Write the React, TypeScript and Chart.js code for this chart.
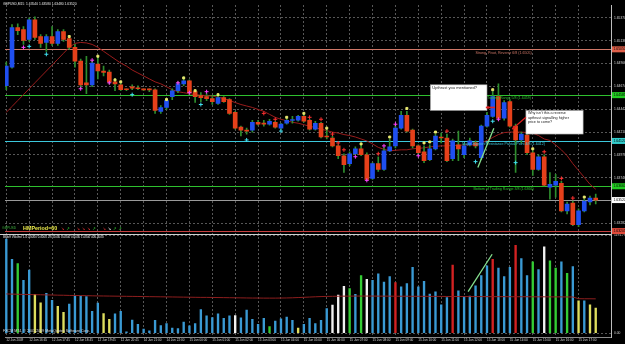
import React, { useEffect, useRef } from "react";
import { Chart, registerables } from "chart.js";

Chart.register(...registerables);

// ---------------- data ----------------
const symbolTitle = "GBPUSD,M15";
const timeLabels = [
  "12 Jun 2009", "12 Jun 16:45", "12 Jun 17:45", "12 Jun 18:45", "12 Jun 19:45", "12 Jun 20:45",
  "14 Jun 21:00", "14 Jun 22:00", "15 Jun 00:00", "15 Jun 01:00", "15 Jun 02:00", "15 Jun 03:00",
  "15 Jun 04:00", "15 Jun 05:00", "15 Jun 06:00", "15 Jun 07:00", "15 Jun 08:00", "15 Jun 09:00",
  "15 Jun 10:00", "15 Jun 11:00", "15 Jun 12:00", "15 Jun 13:00", "15 Jun 14:00", "15 Jun 15:00",
  "15 Jun 16:00", "15 Jun 17:00",
];
const barsPerTimeLabel = 4;

const opens = [
  1.6468, 1.6487, 1.6527, 1.6525, 1.6515, 1.6535, 1.6518, 1.6512, 1.6518, 1.6511,
  1.6523, 1.6516, 1.6507, 1.6493, 1.6471, 1.6469, 1.6490, 1.6483, 1.6482, 1.6472,
  1.6469, 1.64645, 1.6467, 1.6466, 1.64642, 1.64642, 1.6464, 1.6442, 1.6446, 1.6457,
  1.6463, 1.6470, 1.6473, 1.6462, 1.6458, 1.6457, 1.6455, 1.6450, 1.6456, 1.6454,
  1.6441, 1.6426, 1.6423, 1.6423, 1.6431, 1.6430, 1.6429, 1.6431, 1.6425, 1.6430,
  1.64328, 1.6433, 1.6437, 1.6433, 1.6424, 1.6430, 1.6417, 1.6415, 1.6407, 1.6397,
  1.6389, 1.6399, 1.6404, 1.6398, 1.6374, 1.6389, 1.6383, 1.6402, 1.6407, 1.6425,
  1.6438, 1.6423, 1.6407, 1.6401, 1.6393, 1.6404, 1.6416, 1.6415, 1.6394, 1.6408,
  1.6398, 1.6408, 1.6410, 1.6395, 1.6427, 1.6437, 1.6457, 1.6435, 1.6452, 1.6427,
  1.6413, 1.6418, 1.6400, 1.6383, 1.6396, 1.6365, 1.6367, 1.6369, 1.6341, 1.6349,
  1.6327, 1.6341, 1.6350, 1.6354,
];
const highs = [
  1.6492, 1.6530, 1.6531, 1.6528, 1.6537, 1.6538, 1.6520, 1.6520, 1.6528, 1.6525,
  1.6525, 1.6517, 1.6510, 1.6495, 1.6498, 1.6493, 1.6498, 1.6488, 1.6484, 1.6475,
  1.6471, 1.6465, 1.6469, 1.6468, 1.6465, 1.6465, 1.6465, 1.6448, 1.6455, 1.6465,
  1.6472, 1.6477, 1.6474, 1.6464, 1.6461, 1.6460, 1.6457, 1.6458, 1.6457, 1.6455,
  1.6442, 1.6427, 1.6425, 1.6433, 1.6433, 1.6433, 1.6434, 1.6432, 1.6430, 1.6434,
  1.6437, 1.6438, 1.6438, 1.6434, 1.6432, 1.6431, 1.6423, 1.6417, 1.6408, 1.6399,
  1.6401, 1.6406, 1.6408, 1.6400, 1.6390, 1.6396, 1.6405, 1.6414, 1.6428, 1.6442,
  1.6442, 1.6424, 1.6408, 1.6407, 1.6408, 1.6419, 1.6420, 1.6419, 1.6414, 1.6422,
  1.6409, 1.6415, 1.6412, 1.6428, 1.6441, 1.6462, 1.6470, 1.6453, 1.6454, 1.6429,
  1.6421, 1.6420, 1.6402, 1.6398, 1.6398, 1.6380, 1.6378, 1.6371, 1.6350, 1.6351,
  1.6343, 1.6353, 1.6356, 1.6358,
];
const lows = [
  1.6464, 1.6486, 1.6520, 1.6510, 1.6513, 1.6515, 1.6507, 1.6503, 1.6509, 1.6509,
  1.6513, 1.6505, 1.6487, 1.6465, 1.6460, 1.6467, 1.6475, 1.6478, 1.6470, 1.6463,
  1.6463, 1.6463, 1.6464, 1.6464, 1.6463, 1.6462, 1.6440, 1.6440, 1.6444, 1.6454,
  1.6461, 1.6468, 1.6459, 1.6451, 1.6452, 1.6453, 1.6449, 1.6449, 1.6451, 1.6439,
  1.6424, 1.6417, 1.6419, 1.6421, 1.6428, 1.6427, 1.6428, 1.6425, 1.6424, 1.6429,
  1.6430, 1.6432, 1.6431, 1.6423, 1.6423, 1.6415, 1.6414, 1.6406, 1.6394, 1.6380,
  1.6387, 1.6398, 1.6397, 1.6372, 1.6373, 1.6381, 1.6382, 1.6401, 1.6405, 1.6424,
  1.6421, 1.6405, 1.6398, 1.6390, 1.6392, 1.6403, 1.6410, 1.6391, 1.6392, 1.6392,
  1.6395, 1.6407, 1.6405, 1.6393, 1.6426, 1.6436, 1.6433, 1.6433, 1.6426, 1.6380,
  1.6410, 1.6398, 1.6377, 1.6382, 1.6366, 1.6353, 1.6355, 1.6340, 1.6338, 1.6326,
  1.6325, 1.6340, 1.6347, 1.6348,
];
const closes = [
  1.6488, 1.6527, 1.6524, 1.6514, 1.6535, 1.6517, 1.6511, 1.6518, 1.6511, 1.6523,
  1.6515, 1.6507, 1.6493, 1.6469, 1.6469, 1.6491, 1.6483, 1.64815, 1.6472, 1.6470,
  1.6464, 1.6464, 1.64655, 1.6465, 1.64638, 1.64638, 1.6443, 1.6446, 1.6453, 1.6463,
  1.6470, 1.6473, 1.6461, 1.6457, 1.6456, 1.6455, 1.6452, 1.6456, 1.6452, 1.6440,
  1.6425, 1.6423, 1.6422, 1.6431, 1.6429, 1.6429, 1.6432, 1.6426, 1.6429, 1.6433,
  1.64332, 1.6437, 1.6432, 1.6424, 1.6430, 1.6416, 1.6416, 1.6407, 1.6397, 1.6388,
  1.6399, 1.6404, 1.6398, 1.6373, 1.6389, 1.6383, 1.6402, 1.6406, 1.6425, 1.6438,
  1.6422, 1.6407, 1.6400, 1.6392, 1.6404, 1.6417, 1.6415, 1.6392, 1.6412, 1.6404,
  1.6407, 1.6412, 1.6407, 1.6427, 1.6438, 1.6457, 1.6435, 1.6451, 1.6427, 1.6413,
  1.6419, 1.6400, 1.6383, 1.6396, 1.6367, 1.6368, 1.6371, 1.6341, 1.6348, 1.6327,
  1.6341, 1.6351, 1.6354, 1.6352,
];
// Hull moving average (HMPeriod=60)
const hma = [
  1.6441, 1.6447, 1.6453, 1.6459, 1.6465, 1.6471, 1.6477, 1.6483, 1.6489, 1.6495,
  1.6501, 1.6507, 1.6511, 1.6512, 1.65115, 1.6510, 1.6507, 1.6503, 1.6499, 1.6495,
  1.6491, 1.6488, 1.6484, 1.6481, 1.6478, 1.6475, 1.6472, 1.6470, 1.6467, 1.6464,
  1.6462, 1.6461, 1.6460, 1.6459, 1.64585, 1.6458, 1.64575, 1.64565, 1.6455, 1.6453,
  1.6451, 1.6449, 1.64475, 1.6446, 1.6444, 1.6442, 1.6439, 1.6436, 1.6434, 1.64325,
  1.6431, 1.6430, 1.64285, 1.6427, 1.64255, 1.6424, 1.64225, 1.6421, 1.6420, 1.64185,
  1.64175, 1.6416, 1.6414, 1.6412, 1.6409, 1.64055, 1.64035, 1.6402, 1.64025, 1.6403,
  1.6403, 1.6404, 1.64045, 1.6405, 1.6406, 1.64065, 1.6407, 1.6407, 1.64075, 1.64075,
  1.6408, 1.6408, 1.6408, 1.6410, 1.64125, 1.64155, 1.64185, 1.64205, 1.6421, 1.6421,
  1.6421, 1.64205, 1.6420, 1.64175, 1.6414, 1.64125, 1.6408, 1.6403, 1.6397, 1.6389,
  1.6382, 1.6375, 1.6368, 1.6363,
];
const volumes = [
  1148, 902, 850, 644, 771, 473, 370, 485, 401, 326,
  254, 354, 457, 453, 445, 266, 366, 238, 167, 235,
  266, 14, 159, 107, 48, 28, 155, 92, 115, 60,
  56, 135, 87, 115, 286, 212, 190, 235, 179, 211,
  215, 187, 282, 167, 107, 179, 80, 147, 175, 194,
  155, 60, 107, 179, 115, 155, 298, 342, 465, 572,
  545, 473, 703, 656, 644, 723, 624, 691, 616, 564,
  604, 802, 564, 632, 477, 504, 346, 433, 831, 516,
  445, 453, 576, 703, 822, 902, 795, 691, 802, 1073,
  910, 703, 870, 775, 1053, 882, 795, 870, 731, 811,
  393, 393, 346, 306,
];
const volumeAverage = [
  478, 476, 474, 472, 471, 469, 468, 466, 465, 463,
  462, 460, 459, 458, 457, 455, 454, 453, 452, 451,
  450, 449, 448, 447, 446, 445, 444, 443, 442, 441,
  440, 439, 438, 437, 436, 436, 435, 434, 433, 432,
  431, 430, 429, 428, 428, 427, 427, 427, 428, 429,
  431, 434, 437, 440, 443, 446, 448, 449, 450, 451,
  451, 452, 452, 452, 452, 451, 451, 451, 450, 450,
  450, 449, 449, 449, 448, 448, 448, 447, 447, 447,
  446, 446, 446, 446, 445, 445, 445, 445, 444, 444,
  444, 444, 443, 443, 443, 442, 442, 442, 441, 441,
  420, 419, 419, 418,
];
// Better Volume bar classes (bar indices)
const volumeClimaxHigh = [68, 78, 85, 89];
const volumeClimaxLow = [40, 57, 58, 59, 63, 94];
const volumeChurn = [2, 46, 60, 62, 92, 95, 96, 98];
const volumeLow = [5, 6, 9, 10, 17, 18, 51, 100, 102, 103];

// signal markers: [bar, price]
const magentaMarks = [
  [3, 1.6507], [13, 1.6465], [15, 1.6494], [18, 1.6471], [30, 1.6471], [32, 1.6461], [35, 1.6462],
  [61, 1.6396], [63, 1.6372], [66, 1.6407], [68, 1.6429], [72, 1.6397], [86, 1.6434],
];
const cyanMarks = [
  [4, 1.6508], [7, 1.6500], [22, 1.6459], [34, 1.6449], [42, 1.6413], [48, 1.6422],
  [82, 1.6391], [85, 1.6432], [89, 1.6390],
];
const yellowMarks = [
  [11, 1.6518], [16, 1.6498], [19, 1.6474], [20, 1.6472], [28, 1.6454], [31, 1.6476], [33, 1.6463],
  [37, 1.6459], [49, 1.6436], [52, 1.6440], [56, 1.6425], [62, 1.6409], [67, 1.6416], [70, 1.6445],
  [73, 1.6410], [74, 1.6411], [75, 1.6421], [85, 1.6464], [92, 1.6404], [101, 1.6355],
];
const redMarks = [
  [45, 1.6440], [47, 1.6434], [53, 1.6436], [55, 1.6434], [57, 1.6419], [58, 1.6410], [59, 1.6403],
  [65, 1.6399], [77, 1.6422], [94, 1.6401], [97, 1.6374], [99, 1.6354],
];

// Murrey math levels
const murreyLevels = [1.6505, 1.64585, 1.6412, 1.6366, 1.63205];
const murreyNames = [
  "Strong, Pivot, Reverse 6/8",
  "Top of Trading Range 5/8",
  "Major Support/Resistance Pivotal Point 4/8",
  "Bottom of Trading Range 3/8",
  "Strong, Pivot, Reverse 2/8",
];
const bidPrice = 1.6352;
const priceTicks = [
  1.6537, 1.65254, 1.65138, 1.65022, 1.64906, 1.6479, 1.64674, 1.64558, 1.64442, 1.64326,
  1.6421, 1.64094, 1.63978, 1.63862, 1.63746, 1.6363, 1.63514, 1.63398, 1.63282,
];
const volumeTicks = [0, 1191.79];

const volumeHeader = "Better Volume 1.4 0.0000 0.0000 297.0000 0.0000 0.0000 1.0000 406.0000";
const copyright = "FXCM MT4, \u00a9 2001-2009 MetaQuotes Software Corp.";
const note1 = ["Upthrust you mentioned?"];
const note2 = ["Why isn't this a reverse", "upthrust signalling higher", "price to come?"];

// ---------------- styles ----------------
const FONT = '"Liberation Sans", "DejaVu Sans", Arial, sans-serif';
const S = {
  bg: "#000000",
  grid: "#575757",
  axisText: "#d4d4d4",
  bull: "#1f4ff0",
  bear: "#e5401a",
  wick: "#2e8e2e",
  hma: "#9a1c1c",
  volBlue: "#3a9ad4",
  volRed: "#d42222",
  volWhite: "#f2f2f2",
  volGreen: "#34cc34",
  volYellow: "#dede5e",
  volMA: "#8e1e1e",
  levelLine: ["#d07868", "#2ec02e", "#3cc8dc", "#2ec02e", "#c84040"],
  levelBox: ["#e0604a", "#22cc22", "#33cccc", "#22cc22", "#e04a3a"],
  bidLine: "#9a9a9a",
};

function txt(ctx: any, s: string, x: number, y: number, color: string, size: number, align = "left", bold = false) {
  ctx.font = `${bold ? "bold " : ""}${size}px ${FONT}`;
  ctx.fillStyle = color;
  ctx.textAlign = align;
  ctx.textBaseline = "middle";
  ctx.fillText(s, x, y);
}

function arrow(ctx: any, x1: number, y1: number, x2: number, y2: number, color: string, w: number) {
  ctx.strokeStyle = color;
  ctx.fillStyle = color;
  ctx.lineWidth = w;
  ctx.beginPath();
  ctx.moveTo(x1, y1);
  ctx.lineTo(x2, y2);
  ctx.stroke();
  const a = Math.atan2(y2 - y1, x2 - x1);
  const h = 3.2;
  ctx.beginPath();
  ctx.moveTo(x2, y2);
  ctx.lineTo(x2 - h * Math.cos(a - 0.55), y2 - h * Math.sin(a - 0.55));
  ctx.lineTo(x2 - h * Math.cos(a + 0.55), y2 - h * Math.sin(a + 0.55));
  ctx.closePath();
  ctx.fill();
}

const overlay = {
  id: "mtOverlay",
  beforeDatasetsDraw(chart: any) {
    const { ctx, chartArea: a, scales } = chart;
    const y = scales.y;
    ctx.save();
    ctx.lineWidth = 1;
    ctx.setLineDash([]);
    murreyLevels.forEach((p, i) => {
      const py = Math.round(y.getPixelForValue(p)) + 0.5;
      ctx.strokeStyle = S.levelLine[i];
      ctx.beginPath();
      ctx.moveTo(a.left, py);
      ctx.lineTo(a.right, py);
      ctx.stroke();
    });
    const by = Math.round(y.getPixelForValue(bidPrice)) + 0.5;
    ctx.strokeStyle = S.bidLine;
    ctx.beginPath();
    ctx.moveTo(a.left, by);
    ctx.lineTo(a.right, by);
    ctx.stroke();
    ctx.restore();
  },
  afterDraw(chart: any) {
    const { ctx, chartArea: a, scales } = chart;
    const x = scales.x, y = scales.y, yv = scales.yv;
    const X = (b: number) => x.getPixelForValue(b);
    const Y = (p: number) => y.getPixelForValue(p);
    const YV = (v: number) => yv.getPixelForValue(v);
    const W = chart.width;
    ctx.save();
    ctx.setLineDash([]);

    // pane separator
    const sep = Math.round(yv.top) + 0.5;
    ctx.strokeStyle = "#cfcfcf";
    ctx.lineWidth = 1;
    ctx.beginPath();
    ctx.moveTo(0, sep);
    ctx.lineTo(a.right, sep);
    ctx.stroke();

    // level labels
    murreyLevels.slice(0, 4).forEach((p, i) => {
      txt(ctx, `${murreyNames[i]} (${p.toFixed(4)})`, X(86.9), Y(p) + 3.2, S.levelLine[i], 3.6, "center");
    });

    // right axis boxes
    const boxes = murreyLevels.map((p, i) => ({ p, c: S.levelBox[i], t: "#000" }));
    boxes.push({ p: bidPrice, c: "#ffffff", t: "#000" });
    boxes.forEach((b) => {
      const py = Y(b.p);
      ctx.fillStyle = b.c;
      ctx.fillRect(a.right + 1, py - 3, W - a.right - 1, 6);
      txt(ctx, b.p.toFixed(5), a.right + 2.5, py, b.t, 3.4);
    });

    // annotation notes
    const drawNote = (b0: number, b1: number, p0: number, p1: number, lines: string[], size: number, lh: number) => {
      const l = X(b0), r = X(b1), t = Y(p0), btm = Y(p1);
      ctx.fillStyle = "#ffffff";
      ctx.fillRect(l, t, r - l, btm - t);
      ctx.strokeStyle = "#9a9a9a";
      ctx.lineWidth = 0.6;
      ctx.strokeRect(l, t, r - l, btm - t);
      lines.forEach((s, k) => txt(ctx, s, l + 2, t + 3 + k * lh, "#1a1a1a", size));
    };
    drawNote(74.1, 84.0, 1.6469, 1.6443, note1, 4, 4);
    drawNote(90.8, 100.8, 1.6443, 1.6419, note2, 3.7, 4.1);
    arrow(ctx, X(85.4), Y(1.6446), X(83.8), Y(1.6446), "#e02020", 1.6);
    arrow(ctx, X(90.8), Y(1.6436), X(88.4), Y(1.6424), "#e02020", 1.3);

    // hand-drawn green lines
    ctx.strokeStyle = "#86e08e";
    ctx.lineWidth = 1.3;
    ctx.beginPath();
    ctx.moveTo(X(82.4), Y(1.6385));
    ctx.lineTo(X(85.2), Y(1.6425));
    ctx.stroke();
    ctx.beginPath();
    ctx.moveTo(X(80.7), YV(506));
    ctx.lineTo(X(84.9), YV(963));
    ctx.stroke();

    // headers
    const n = opens.length - 1;
    txt(ctx, `${symbolTitle}  ${opens[n].toFixed(5)} ${highs[n].toFixed(5)} ${lows[n].toFixed(5)} ${closes[n].toFixed(5)}`, 3, 4, "#e8e8e8", 3.3);
    txt(ctx, volumeHeader, 3, yv.top + 4, "#e8e8e8", 3.0);
    txt(ctx, copyright, 3, 331, "#d8d8d8", 3.6);

    // bottom-left indicator labels of the price pane
    const ly = y.bottom - 5;
    txt(ctx, "GBPUSD", 2, ly, "#3aa83a", 3.4);
    txt(ctx, "HMPeriod=60", 23, ly, "#e8e84a", 5.4, "left", true);
    const glyphs: [string, string][] = [
      ["\u2198", "#e03030"], ["\u2197", "#30d030"], ["", ""], ["\u2198", "#e03030"], ["\u2198", "#e03030"],
      ["\u2198", "#e03030"], ["\u2197", "#30d030"], ["", ""], ["\u2198", "#e03030"], ["\u2198", "#f0f0f0"],
      ["\u2197", "#30d030"], ["\u2197", "#30d030"],
    ];
    glyphs.forEach(([g, c], k) => {
      if (g) txt(ctx, g, 61 + k * 5.2, ly, c, 4.2);
    });
    ctx.restore();
  },
};

export default function App() {
  const ref = useRef<HTMLCanvasElement | null>(null);

  useEffect(() => {
    const canvas = ref.current;
    if (!canvas) return;
    const idx = opens.map((_, i) => i);
    const volColor = idx.map((i) => {
      if (volumeClimaxHigh.includes(i)) return S.volRed;
      if (volumeClimaxLow.includes(i)) return S.volWhite;
      if (volumeChurn.includes(i)) return S.volGreen;
      if (volumeLow.includes(i)) return S.volYellow;
      return S.volBlue;
    });
    const markerSet = (marks: number[][], color: string, style: string, r: number, order: number) => ({
      type: "line" as const,
      yAxisID: "y",
      data: marks.map(([b, p]) => ({ x: b, y: p })),
      showLine: false,
      pointStyle: style,
      pointRadius: r,
      pointBorderColor: color,
      pointBackgroundColor: color,
      pointBorderWidth: 1,
      order,
    });

    const chart = new Chart(canvas, {
      type: "bar",
      data: {
        datasets: [
          {
            type: "line",
            yAxisID: "y",
            data: hma.map((v, i) => ({ x: i, y: v })),
            borderColor: S.hma,
            borderWidth: 1,
            pointRadius: 0,
            order: 5,
          },
          {
            type: "bar",
            yAxisID: "y",
            data: idx.map((i) => ({ x: i, y: [lows[i], highs[i]] })),
            backgroundColor: S.wick,
            barThickness: 1,
            grouped: false,
            order: 4,
          },
          {
            type: "bar",
            yAxisID: "y",
            data: idx.map((i) => ({ x: i, y: [opens[i], closes[i]] })),
            backgroundColor: idx.map((i) => (closes[i] > opens[i] ? S.bull : S.bear)),
            barThickness: 4,
            minBarLength: 1,
            grouped: false,
            order: 3,
          },
          markerSet(magentaMarks, "#ff40ff", "cross", 2, 0),
          markerSet(cyanMarks, "#40e0f0", "cross", 2, 0),
          markerSet(redMarks, "#ff3030", "cross", 2, 0),
          markerSet(yellowMarks, "#e8e870", "rect", 1.4, 0),
          {
            type: "bar",
            yAxisID: "yv",
            data: volumes.map((v, i) => ({ x: i, y: v })),
            backgroundColor: volColor,
            barThickness: 1.7,
            grouped: false,
            order: 2,
          },
          {
            type: "line",
            yAxisID: "yv",
            data: volumeAverage.map((v, i) => ({ x: i, y: v })),
            borderColor: S.volMA,
            borderWidth: 1,
            pointRadius: 0,
            order: 1,
          },
        ] as any,
      },
      options: {
        animation: false,
        responsive: false,
        maintainAspectRatio: false,
        devicePixelRatio: 1,
        events: [],
        layout: { padding: 0 },
        plugins: { legend: { display: false }, tooltip: { enabled: false } },
        scales: {
          x: {
            type: "linear",
            min: -0.225,
            max: 105.67,
            offset: false,
            afterBuildTicks: (s: any) => {
              s.ticks = timeLabels.map((_, i) => ({ value: i * barsPerTimeLabel }));
            },
            afterFit: (s: any) => {
              s.height = 7;
              s.paddingLeft = 0;
              s.paddingRight = 0;
            },
            grid: { color: S.grid, drawTicks: false, offset: false },
            border: { display: true, color: "#8a8a8a", dash: [2, 2] },
            ticks: {
              autoSkip: false,
              maxRotation: 0,
              minRotation: 0,
              align: "start",
              padding: 1.5,
              color: S.axisText,
              font: { family: FONT, size: 3.1 },
              callback: (v: any) => timeLabels[Math.round(Number(v) / barsPerTimeLabel)] ?? "",
            },
          },
          y: {
            type: "linear",
            position: "right",
            stack: "panes",
            stackWeight: 232,
            min: 1.6318,
            max: 1.655,
            afterBuildTicks: (s: any) => {
              s.ticks = priceTicks.map((v) => ({ value: v }));
            },
            afterFit: (s: any) => {
              s.width = 14;
              s.paddingTop = 0;
              s.paddingBottom = 0;
            },
            grid: { color: S.grid, drawTicks: false },
            border: { display: true, color: "#bdbdbd", dash: [2, 2] },
            ticks: {
              padding: 3,
              color: S.axisText,
              font: { family: FONT, size: 3.3 },
              callback: (v: any) => Number(v).toFixed(5),
            },
          },
          yv: {
            type: "linear",
            position: "right",
            stack: "panes",
            stackWeight: 105,
            min: -48.2,
            max: 1216,
            afterBuildTicks: (s: any) => {
              s.ticks = volumeTicks.map((v) => ({ value: v }));
            },
            afterFit: (s: any) => {
              s.width = 14;
              s.paddingTop = 0;
              s.paddingBottom = 0;
            },
            grid: { color: S.grid, drawTicks: false },
            border: { display: true, color: "#bdbdbd", dash: [2, 2] },
            ticks: {
              padding: 3,
              color: S.axisText,
              font: { family: FONT, size: 3.3 },
              callback: (v: any) => Number(v).toFixed(2),
            },
          },
        } as any,
      },
      plugins: [overlay],
    });
    return () => chart.destroy();
  }, []);

  return (
    <div style={{ position: "fixed", left: 0, top: 0, width: 625, height: 344, background: S.bg, overflow: "hidden" }}>
      <canvas ref={ref} width={625} height={344} style={{ display: "block", width: 625, height: 344 }} />
    </div>
  );
}
